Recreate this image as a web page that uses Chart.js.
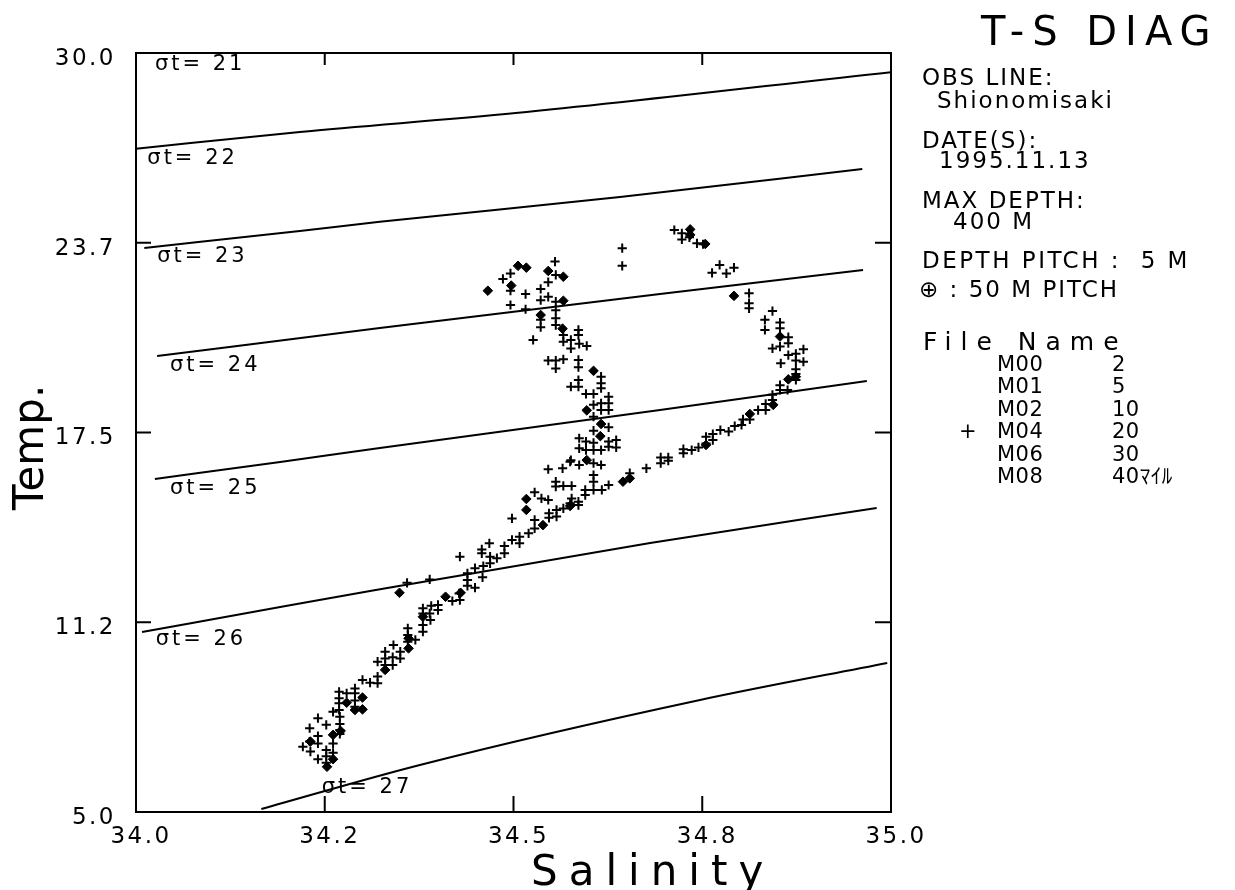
<!DOCTYPE html>
<html>
<head>
<meta charset="utf-8">
<script src="https://cdn.jsdelivr.net/npm/chart.js@4.4.1/dist/chart.umd.min.js"></script>
<style>
html,body{margin:0;padding:0;background:#fff;}
#wrap{position:relative;width:1235px;height:890px;overflow:hidden;background:#fff;}
#c{position:absolute;left:0;top:0;}
.t{position:absolute;font-family:'DejaVu Sans','Noto Sans CJK JP',sans-serif;color:#000;white-space:pre;line-height:1;}
.rows{position:absolute;font-family:'DejaVu Sans','Noto Sans CJK JP',sans-serif;color:#000;white-space:pre;font-size:21px;line-height:22.4px;letter-spacing:0.5px;}
</style>
</head>
<body>
<div id="wrap">
<canvas id="c" width="1235" height="890"></canvas>
<div class="t" style="left:981px;top:11px;font-size:40px;letter-spacing:8px;">T-S DIAG</div>
<div class="t" style="left:922px;top:66px;font-size:23px;letter-spacing:2px;">OBS LINE:</div>
<div class="t" style="left:937px;top:89px;font-size:23px;letter-spacing:2px;">Shionomisaki</div>
<div class="t" style="left:922px;top:129px;font-size:23px;letter-spacing:2px;">DATE(S):</div>
<div class="t" style="left:939px;top:149px;font-size:23px;letter-spacing:2px;">1995.11.13</div>
<div class="t" style="left:922px;top:189px;font-size:23px;letter-spacing:2px;">MAX DEPTH:</div>
<div class="t" style="left:953px;top:210px;font-size:23px;letter-spacing:2px;">400 M</div>
<div class="t" style="left:922px;top:249px;font-size:23px;letter-spacing:2.5px;">DEPTH PITCH :  5 M</div>
<div class="t" style="left:919px;top:278px;font-size:23px;letter-spacing:2px;">⊕ : 50 M PITCH</div>
<div class="t" style="left:923px;top:329px;font-size:25px;letter-spacing:9px;">File Name</div>
<div class="rows" style="left:959px;top:353px;">&#10;&#10;&#10;+</div>
<div class="rows" style="left:997px;top:353px;">M00
M01
M02
M04
M06
M08</div>
<div class="rows" style="left:1112px;top:353px;">2
5
10
20
30
40ﾏｲﾙ</div>
</div>
<script>
// ---- axis ticks ----
const salTickValues = [34.0, 34.25, 34.5, 34.75, 35.0];
const salTickLabels = ['34.0', '34.2', '34.5', '34.8', '35.0'];
const tempTickValues = [5.0, 11.25, 17.5, 23.75, 30.0];
const tempTickLabels = ['5.0', '11.2', '17.5', '23.7', '30.0'];

// ---- station M04, 5 m pitch (+) ----
const m04Salinity = [
 34.713,34.723,34.723,34.733,34.743,34.751,34.763,34.773,34.782,34.792,
 34.812,34.812,34.812,34.843,34.833,34.833,34.853,34.853,34.864,34.864,
 34.843,34.853,34.864,34.874,34.874,34.884,34.884,34.854,34.874,34.874,
 34.874,34.853,34.853,34.863,34.843,34.843,34.834,34.824,34.834,34.804,
 34.813,34.793,34.802,34.785,34.774,34.764,34.764,34.755,34.755,34.745,
 34.736,34.725,34.725,34.705,34.695,34.705,34.695,34.676,34.654,34.626,
 34.617,34.606,34.595,34.586,34.586,34.575,34.577,
 34.644,34.644,34.555,34.486,34.496,34.496,34.516,34.496,34.516,34.536,
 34.546,34.556,34.536,34.546,34.556,34.556,34.556,34.556,34.536,34.536,
 34.526,34.566,34.566,34.576,34.576,34.586,34.586,34.587,34.597,34.546,
 34.556,34.566,34.556,34.586,34.586,34.586,34.576,34.586,34.616,34.616,
 34.616,34.596,34.606,34.626,34.626,34.626,34.616,34.616,34.606,34.606,
 34.606,34.626,34.587,34.587,34.596,34.596,34.606,34.606,34.616,34.626,
 34.626,34.636,34.636,34.576,34.587,34.606,34.616,34.565,34.546,
 34.606,34.606,34.595,34.575,34.556,34.556,34.566,34.577,34.528,34.537,
 34.546,34.566,34.557,34.557,34.547,34.547,34.528,34.528,34.520,34.508,
 34.508,34.498,34.498,34.488,34.488,34.478,34.469,34.469,34.458,34.458,
 34.468,34.429,34.449,34.460,34.459,34.439,34.439,34.439,34.449,34.429,
 34.419,34.389,34.359,34.400,34.400,34.391,34.380,34.380,34.389,
 34.428,34.390,34.380,34.380,34.360,34.360,34.360,34.370,34.350,34.341,
 34.330,34.330,34.340,34.350,34.320,34.330,34.340,34.320,34.320,34.310,
 34.300,34.290,34.290,34.279,34.269,34.290,34.290,34.269,34.269,34.269,
 34.261,34.270,34.270,34.270,34.241,34.252,34.230,34.241,34.230,34.221,
 34.231,34.241,34.252,34.252,34.241,34.252,34.261,34.261,34.270
];
const m04Temperature = [
 24.17,24.06,23.86,23.93,23.73,23.70,22.76,23.02,22.74,22.93,
 22.09,21.76,21.59,21.50,21.21,20.88,21.12,20.93,20.64,20.44,
 20.27,20.33,20.05,20.09,19.87,20.24,19.83,19.78,19.58,19.43,
 19.23,19.06,18.90,18.90,18.74,18.57,18.44,18.24,18.24,17.93,
 17.93,17.71,17.75,17.53,17.58,17.45,17.25,17.36,17.14,17.01,
 16.92,16.95,16.82,16.68,16.68,16.57,16.49,16.32,16.16,15.77,
 15.61,15.61,15.44,15.22,15.11,15.17,15.33,
 23.57,22.99,23.13,22.56,22.74,22.17,22.06,21.70,21.56,22.23,
 22.45,22.69,21.86,21.97,21.81,21.53,21.26,21.04,21.21,20.97,
 20.55,20.71,20.49,20.55,20.27,20.88,20.71,20.42,20.35,19.87,
 19.87,19.91,19.61,19.89,19.65,19.23,19.01,19.01,19.34,19.12,
 18.96,18.77,18.77,18.68,18.46,18.24,18.46,18.24,18.41,18.02,
 17.56,17.67,17.31,16.98,17.20,16.92,17.16,16.92,16.92,17.20,
 17.03,17.25,17.01,16.59,16.43,16.49,16.43,16.32,16.29,
 15.88,16.10,15.61,16.54,15.88,15.72,15.74,15.74,15.53,15.33,
 15.28,15.00,14.95,14.73,14.84,14.69,14.62,14.34,14.18,14.07,
 13.85,13.96,14.67,13.76,13.52,13.36,13.41,13.19,13.65,13.52,
 13.85,13.41,13.03,13.10,12.73,12.86,12.64,12.45,12.39,11.98,
 11.95,12.66,12.55,11.82,11.65,11.79,11.71,11.54,11.54,
 12.20,11.32,11.16,10.94,11.05,10.83,10.61,10.67,10.28,10.50,
 10.28,10.06,10.10,10.06,9.95,9.84,9.84,9.46,9.24,9.26,
 9.35,9.07,8.91,8.91,8.96,8.67,8.47,8.75,8.58,8.36,
 8.30,8.14,7.90,7.70,8.09,7.87,7.76,7.50,7.32,7.15,
 6.99,7.26,7.04,6.84,6.74,6.62,7.26,6.95,7.57
];

// ---- 50 m pitch marks ----
const pitchSalinity = [
 34.734,34.734,34.754,34.792,34.853,34.874,34.864,34.844,34.813,34.755,
 34.645,34.654,34.506,34.517,34.546,34.566,34.466,34.497,34.536,34.566,
 34.565,34.606,34.597,34.616,34.615,34.597,34.575,34.517,34.517,34.539,
 34.430,34.410,34.349,34.380,34.361,34.361,34.330,34.300,34.279,34.290,
 34.300,34.271,34.231,34.261,34.261,34.253
];
const pitchTemperature = [
 24.19,24.01,23.71,22.00,20.66,19.34,19.25,18.41,18.11,17.09,
 15.88,15.99,22.99,22.93,22.82,22.63,22.17,22.34,21.37,21.84,
 20.92,19.53,18.23,17.78,17.38,16.59,15.08,15.31,14.95,14.45,
 12.22,12.09,12.22,11.43,10.72,10.39,9.68,8.77,8.60,8.36,
 8.38,7.67,7.32,7.54,6.74,6.49
];

// ---- sigma-t isopycnals ----
const sigma22Sal = [34.000, 34.217, 34.503, 35.000];
const sigma22Temp = [26.85, 27.40, 28.02, 29.37];
const sigma23Sal = [34.011, 34.217, 34.323, 34.641, 34.962];
const sigma23Temp = [23.58, 24.14, 24.44, 25.26, 26.18];
const sigma24Sal = [34.028, 34.323, 34.694, 34.963];
const sigma24Temp = [20.02, 20.94, 22.06, 22.85];
const sigma25Sal = [34.025, 34.191, 34.323, 34.694, 34.968];
const sigma25Temp = [15.97, 16.53, 16.99, 18.24, 19.20];
const sigma26Sal = [34.008, 34.191, 34.310, 34.681, 34.981];
const sigma26Temp = [10.93, 11.75, 12.28, 13.86, 15.01];
const sigma27Sal = [34.166, 34.376, 34.747, 34.995];
const sigma27Temp = [5.10, 6.55, 8.69, 9.91];

const sigmaLabelText = ['σt= 21','σt= 22','σt= 23','σt= 24','σt= 25','σt= 26','σt= 27'];
const sigmaLabelSal = [34.025, 34.015, 34.028, 34.045, 34.045, 34.026, 34.246];
const sigmaLabelTemp = [29.62, 26.51, 23.28, 19.69, 15.67, 10.67, 5.82];

const xTitle = 'Salinity';
const yTitle = 'Temp.';

function pts(s, t) { return s.map((v, i) => ({ x: v, y: t[i] })); }

const FONT = "'DejaVu Sans', sans-serif";

function lineDs(label, s, t) {
  return { label, data: pts(s, t), showLine: true, borderColor: '#000', borderWidth: 2,
           pointRadius: 0, fill: false, cubicInterpolationMode: 'monotone', order: 3 };
}

const plotDecor = {
  id: 'plotDecor',
  beforeDraw(chart) { chart.ctx.letterSpacing = '2.5px'; },
  afterDatasetsDraw(chart) {
    const ctx = chart.ctx, a = chart.chartArea, xs = chart.scales.x, ys = chart.scales.y;
    ctx.save();
    ctx.letterSpacing = '0px';
    ctx.strokeStyle = '#000';
    ctx.lineWidth = 2;
    ctx.strokeRect(a.left, a.top, a.right - a.left, a.bottom - a.top);
    ctx.beginPath();
    xs.ticks.forEach(tk => {
      if (tk.value <= xs.min || tk.value >= xs.max) return;
      const px = xs.getPixelForValue(tk.value);
      ctx.moveTo(px, a.bottom); ctx.lineTo(px, a.bottom - 16);
      ctx.moveTo(px, a.top); ctx.lineTo(px, a.top + 12);
    });
    ys.ticks.forEach(tk => {
      if (tk.value <= ys.min || tk.value >= ys.max) return;
      const py = ys.getPixelForValue(tk.value);
      ctx.moveTo(a.left, py); ctx.lineTo(a.left + 15, py);
      ctx.moveTo(a.right, py); ctx.lineTo(a.right - 16, py);
    });
    ctx.stroke();
    // sigma-t labels
    ctx.fillStyle = '#000';
    ctx.font = '21px ' + FONT;
    ctx.letterSpacing = '3px';
    ctx.textAlign = 'left';
    ctx.textBaseline = 'middle';
    sigmaLabelText.forEach((txt, i) => {
      ctx.fillText(txt, xs.getPixelForValue(sigmaLabelSal[i]), ys.getPixelForValue(sigmaLabelTemp[i]));
    });
    // axis titles
    ctx.textBaseline = 'alphabetic';
    ctx.font = '42px ' + FONT;
    ctx.letterSpacing = '11px';
    ctx.fillText(xTitle, a.left + 395, 885);
    ctx.letterSpacing = '0px';
    ctx.translate(43, a.bottom - 302);
    ctx.rotate(-Math.PI / 2);
    ctx.fillText(yTitle, 0, 0);
    ctx.restore();
  },
  afterDraw(chart) { chart.ctx.letterSpacing = '0px'; }
};

new Chart(document.getElementById('c'), {
  type: 'scatter',
  data: {
    datasets: [
      { label: '50 M PITCH', data: pts(pitchSalinity, pitchTemperature), pointStyle: 'rectRot',
        pointRadius: 4.8, backgroundColor: '#000', borderColor: '#000', borderWidth: 1, order: 1 },
      { label: 'M04', data: pts(m04Salinity, m04Temperature), pointStyle: 'cross',
        pointRadius: 4.6, borderColor: '#000', borderWidth: 2, order: 2 },
      lineDs('σt=22', sigma22Sal, sigma22Temp),
      lineDs('σt=23', sigma23Sal, sigma23Temp),
      lineDs('σt=24', sigma24Sal, sigma24Temp),
      lineDs('σt=25', sigma25Sal, sigma25Temp),
      lineDs('σt=26', sigma26Sal, sigma26Temp),
      lineDs('σt=27', sigma27Sal, sigma27Temp)
    ]
  },
  options: {
    responsive: false,
    animation: false,
    devicePixelRatio: 1,
    layout: { padding: { left: 0, top: 53, right: 344, bottom: 0 } },
    plugins: { legend: { display: false }, tooltip: { enabled: false } },
    scales: {
      x: {
        type: 'linear', position: 'bottom', min: 34.0, max: 35.0,
        afterFit(s) { s.height = 78; },
        afterBuildTicks(s) { s.ticks = salTickValues.map(v => ({ value: v })); },
        grid: { display: false, drawTicks: false },
        border: { display: false },
        ticks: { autoSkip: false, maxRotation: 0, padding: 11, labelOffset: 5, color: '#000',
                 font: { family: FONT, size: 23 },
                 callback: (v, i) => salTickLabels[i] }
      },
      y: {
        type: 'linear', position: 'left', min: 5.0, max: 30.0,
        afterFit(s) { s.width = 136; },
        afterBuildTicks(s) { s.ticks = tempTickValues.map(v => ({ value: v })); },
        grid: { display: false, drawTicks: false },
        border: { display: false },
        ticks: { autoSkip: false, padding: 20, labelOffset: 6, color: '#000',
                 font: { family: FONT, size: 23 },
                 callback: (v, i) => tempTickLabels[i] }
      }
    }
  },
  plugins: [plotDecor]
});
</script>
</body>
</html>
